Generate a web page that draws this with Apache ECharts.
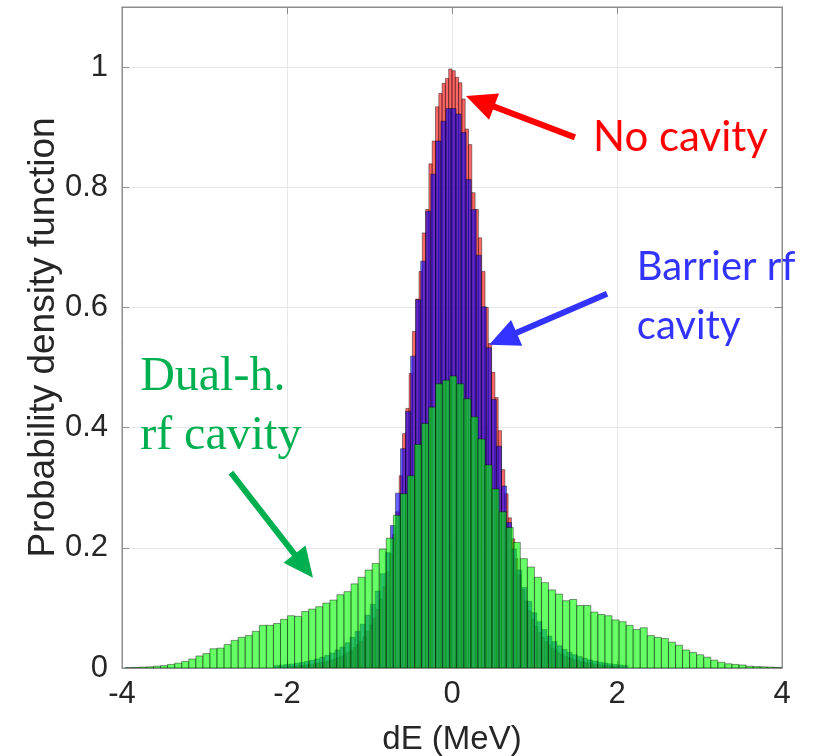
<!DOCTYPE html>
<html>
<head>
<meta charset="utf-8">
<script src="https://cdn.jsdelivr.net/npm/echarts@6/dist/echarts.min.js"></script>
<style>html,body{margin:0;padding:0;background:#fff}#c{width:833px;height:756px}</style>
</head>
<body>
<div id="c"></div>
<script>
// ---------- data ----------
const xTicks = [-4, -2, 0, 2, 4];
const yTicks = [0, 0.2, 0.4, 0.6, 0.8, 1];

// "No cavity" histogram (bin width 0.04, first edge -2.0)
const noCavityStart = -2.0;
const noCavityWidth = 0.04;
const noCavity = [
  0.0022, 0.0026, 0.003, 0.0036, 0.0042, 0.0048, 0.0055, 0.0062, 0.007, 0.008,
  0.009, 0.0102, 0.0115, 0.013, 0.015, 0.017, 0.0195, 0.022, 0.026, 0.029,
  0.034, 0.039, 0.045, 0.052, 0.061, 0.071, 0.083, 0.098, 0.115, 0.135,
  0.16, 0.19, 0.222, 0.26, 0.32, 0.39, 0.432, 0.49, 0.56, 0.614,
  0.66, 0.724, 0.763, 0.839, 0.877, 0.934, 0.956, 0.973, 0.981, 0.997,
  0.994, 0.983, 0.974, 0.947, 0.897, 0.871, 0.791, 0.763, 0.716, 0.66,
  0.60, 0.54, 0.492, 0.45, 0.395, 0.33, 0.29, 0.25, 0.215, 0.182,
  0.155, 0.131, 0.112, 0.095, 0.081, 0.069, 0.059, 0.051, 0.044, 0.038,
  0.033, 0.029, 0.025, 0.022, 0.019, 0.017, 0.015, 0.013, 0.0115, 0.010,
  0.009, 0.008, 0.007, 0.0062, 0.0055, 0.0048, 0.0042, 0.0036, 0.003, 0.0025
];

// "Barrier rf cavity" histogram (bin width 0.0612, first edge -2.154)
const barrierStart = -2.154;
const barrierWidth = 0.0612;
const barrier = [
  0.004, 0.0048, 0.0057, 0.0067, 0.0079, 0.0093, 0.011, 0.013, 0.015, 0.018,
  0.021, 0.025, 0.030, 0.035, 0.042, 0.051, 0.061, 0.073, 0.088, 0.106,
  0.128, 0.157, 0.192, 0.237, 0.291, 0.365, 0.427, 0.519, 0.613, 0.677,
  0.76, 0.822, 0.877, 0.91, 0.931,
  0.931, 0.922, 0.891, 0.813, 0.763, 0.687, 0.601, 0.533, 0.447, 0.369,
  0.303, 0.242, 0.198, 0.163, 0.134, 0.111, 0.092, 0.077, 0.064, 0.053,
  0.044, 0.037, 0.031, 0.026, 0.022, 0.019, 0.016, 0.0135, 0.0115, 0.0098,
  0.0083, 0.007, 0.006, 0.005, 0.0042
];

// "Dual-h. rf cavity" histogram (bin width 0.0855, first edge -3.96)
const dualStart = -3.96;
const dualWidth = 0.0855;
const dual = [
  0.0005, 0.001, 0.0015, 0.002, 0.003, 0.004, 0.006, 0.008, 0.011, 0.015,
  0.02, 0.024, 0.032, 0.033, 0.039, 0.046, 0.051, 0.054, 0.061, 0.071,
  0.071, 0.074, 0.081, 0.087, 0.086, 0.094, 0.098, 0.102, 0.108, 0.113,
  0.122, 0.127, 0.14, 0.151, 0.163, 0.174, 0.198, 0.216, 0.254, 0.29,
  0.32, 0.372, 0.407, 0.434, 0.473, 0.479, 0.486, 0.473, 0.448, 0.418,
  0.381, 0.338, 0.298, 0.26, 0.234, 0.209, 0.182, 0.168, 0.151, 0.142,
  0.13, 0.123, 0.112, 0.114, 0.104, 0.104, 0.093, 0.089, 0.087, 0.08,
  0.077, 0.071, 0.064, 0.067, 0.054, 0.051, 0.049, 0.043, 0.038, 0.03,
  0.026, 0.022, 0.018, 0.013, 0.0095, 0.007, 0.006, 0.005, 0.003, 0.0025,
  0.002, 0.0015, 0.001
];

// ---------- build ----------
function bins(start, width, vals) {
  return vals.map((v, i) => [start + i * width, start + (i + 1) * width, v]);
}
function histSeries(name, data, fill) {
  return {
    type: 'custom', name: name, data: data, clip: true,
    encode: { x: [0, 1], y: 2 },
    renderItem: function (params, api) {
      const p0 = api.coord([api.value(0), api.value(2)]);
      const p1 = api.coord([api.value(1), 0]);
      return {
        type: 'rect',
        shape: { x: p0[0], y: p0[1], width: p1[0] - p0[0], height: p1[1] - p0[1] },
        style: { fill: fill, stroke: 'rgba(0,0,0,0.7)', lineWidth: 0.6 }
      };
    }
  };
}

const axisColor = '#8c8c8c';
const textColor = '#262626';
const tickFont = 31;

const chart = echarts.init(document.getElementById('c'), null, { renderer: 'canvas' });
chart.setOption({
  animation: false,
  backgroundColor: '#fff',
  grid: { left: 122, right: 51, top: 7, bottom: 88, outerBoundsMode: 'none', containLabel: false,
    show: true, borderColor: axisColor, borderWidth: 1 },
  xAxis: [{
    type: 'value', min: xTicks[0], max: xTicks[xTicks.length - 1], interval: 2,
    name: 'dE (MeV)', nameLocation: 'middle', nameGap: 55, nameMoveOverlap: false,
    nameTextStyle: { fontFamily: 'Liberation Sans', fontSize: 33, color: textColor },
    axisLine: { show: true, onZero: false, lineStyle: { color: axisColor, width: 1 } },
    axisTick: { show: true, inside: true, length: 7, lineStyle: { color: axisColor } },
    axisLabel: { fontFamily: 'Liberation Sans', fontSize: tickFont, color: textColor, margin: 11 },
    splitLine: { show: true, lineStyle: { color: '#e8e8e8', width: 1 } }
  }, {
    type: 'value', position: 'top', min: xTicks[0], max: xTicks[xTicks.length - 1], interval: 2,
    axisLine: { show: true, onZero: false, lineStyle: { color: axisColor } },
    axisTick: { show: true, inside: true, length: 7, lineStyle: { color: axisColor } },
    axisLabel: { show: false }, splitLine: { show: false }
  }],
  yAxis: [{
    type: 'value', min: yTicks[0], max: 1.1, interval: 0.2,
    name: 'Probability density function', nameLocation: 'middle', nameGap: 60, nameRotate: 90, nameMoveOverlap: false,
    nameTextStyle: { fontFamily: 'Liberation Sans', fontSize: 37, color: textColor },
    axisLine: { show: true, onZero: false, lineStyle: { color: axisColor, width: 1 } },
    axisTick: { show: true, inside: true, length: 7, lineStyle: { color: axisColor } },
    axisLabel: { fontFamily: 'Liberation Sans', fontSize: tickFont, color: textColor, margin: 14, showMaxLabel: false,
      formatter: v => (yTicks.indexOf(Math.round(v * 10) / 10) >= 0 ? String(Math.round(v * 10) / 10) : '') },
    splitLine: { show: true, lineStyle: { color: '#e8e8e8', width: 1 } }
  }, {
    type: 'value', position: 'right', min: yTicks[0], max: 1.1, interval: 0.2,
    axisLine: { show: true, onZero: false, lineStyle: { color: axisColor } },
    axisTick: { show: true, inside: true, length: 7, lineStyle: { color: axisColor } },
    axisLabel: { show: false }, splitLine: { show: false }
  }],
  series: [
    histSeries('No cavity', bins(noCavityStart, noCavityWidth, noCavity), 'rgba(255,0,0,0.6)'),
    histSeries('Barrier rf cavity', bins(barrierStart, barrierWidth, barrier), 'rgba(0,0,255,0.6)'),
    histSeries('Dual-h. rf cavity', bins(dualStart, dualWidth, dual), 'rgba(0,255,0,0.6)')
  ]
});

// ---------- annotations (positions in data units) ----------
const labels = [
  { lines: ['No cavity'], at: [1.71, 0.883], color: '#ff0000', font: 'Lato', size: 42, lh: 59 },
  { lines: ['Barrier rf', 'cavity'], at: [2.24, 0.667], color: '#3333ff', font: 'Lato', size: 40, lh: 59 },
  { lines: ['Dual-h.', 'rf cavity'], at: [-3.78, 0.483], color: '#00b050', font: 'Liberation Serif', size: 48, lh: 59 }
];
const arrows = [
  { from: [1.49, 0.883], to: [0.17, 0.952], color: '#ff0000' },
  { from: [1.88, 0.623], to: [0.45, 0.538], color: '#3333ff' },
  { from: [-2.68, 0.325], to: [-1.685, 0.15], color: '#00b050' }
];
const g = [];
labels.forEach(l => {
  const p = chart.convertToPixel({ gridIndex: 0 }, l.at);
  l.lines.forEach((t, i) => {
    g.push({ type: 'text', x: p[0], y: p[1] + i * l.lh, z: 100,
      style: { text: t, fill: l.color, font: l.size + 'px "' + l.font + '"', textAlign: 'left', textVerticalAlign: 'middle' } });
  });
});
arrows.forEach(a => {
  const p0 = chart.convertToPixel({ gridIndex: 0 }, a.from);
  const p1 = chart.convertToPixel({ gridIndex: 0 }, a.to);
  const dx = p1[0] - p0[0], dy = p1[1] - p0[1];
  const L = Math.sqrt(dx * dx + dy * dy), ux = dx / L, uy = dy / L;
  const hl = 30, hw = 14;
  const bx = p1[0] - ux * hl, by = p1[1] - uy * hl;
  g.push({ type: 'line', z: 100, shape: { x1: p0[0], y1: p0[1], x2: bx + ux * 2, y2: by + uy * 2 },
    style: { stroke: a.color, lineWidth: 6 } });
  g.push({ type: 'polygon', z: 100, shape: { points: [[p1[0], p1[1]], [bx - uy * hw, by + ux * hw], [bx + uy * hw, by - ux * hw]] },
    style: { fill: a.color } });
});
chart.setOption({ graphic: g });
</script>
</body>
</html>
